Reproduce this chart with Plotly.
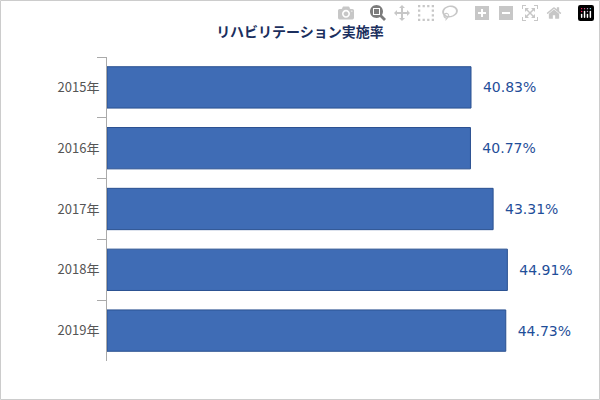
import plotly.graph_objects as go

years = ["2015年", "2016年", "2017年", "2018年", "2019年"]
rates = [40.83, 40.77, 43.31, 44.91, 44.73]
labels = ["40.83%", "40.77%", "43.31%", "44.91%", "44.73%"]

W, H = 600, 400
L, R, T, B = 107, 20, 57, 39
pw, ph = W - L - R, H - T - B

fig = go.Figure(go.Bar(
    x=rates, y=years, orientation="h",
    width=0.68,
    marker=dict(color="#3f6cb5", line=dict(color="#2a5090", width=1)),
    text=["  " + s for s in labels], textposition="outside",
    textfont=dict(color="#1f4e99", size=14, family="Verdana, DejaVu Sans"),
    cliponaxis=False,
))

# thin border around the whole picture
fig.add_shape(type="rect", xref="paper", yref="paper",
              x0=(0.5 - L) / pw, x1=(W - 0.5 - L) / pw,
              y0=-(B - 0.5) / ph, y1=(H - 0.5 - B) / ph,
              line=dict(color="#cccccc", width=1))

fig.update_layout(
    width=W, height=H,
    margin=dict(l=L, r=R, t=T, b=B),
    plot_bgcolor="white", paper_bgcolor="white",
    showlegend=False,
    title=dict(text="<b>リハビリテーション実施率</b>", x=0.5, xanchor="center",
               y=1 - 32 / H, yanchor="middle",
               font=dict(size=14, color="#1b2f5e", family="Noto Sans CJK JP")),
    xaxis=dict(range=[0, pw / 8.915], visible=False),
    yaxis=dict(autorange="reversed", showline=True, linecolor="#aaaaaa",
               ticks="outside", tickson="boundaries", ticklen=9, tickcolor="#aaaaaa",
               ticklabelstandoff=4,
               tickfont=dict(size=13, color="#555555", family="Noto Sans CJK JP")),
)

fig.write_html("out.html", post_script="document.body.style.margin='0';")
